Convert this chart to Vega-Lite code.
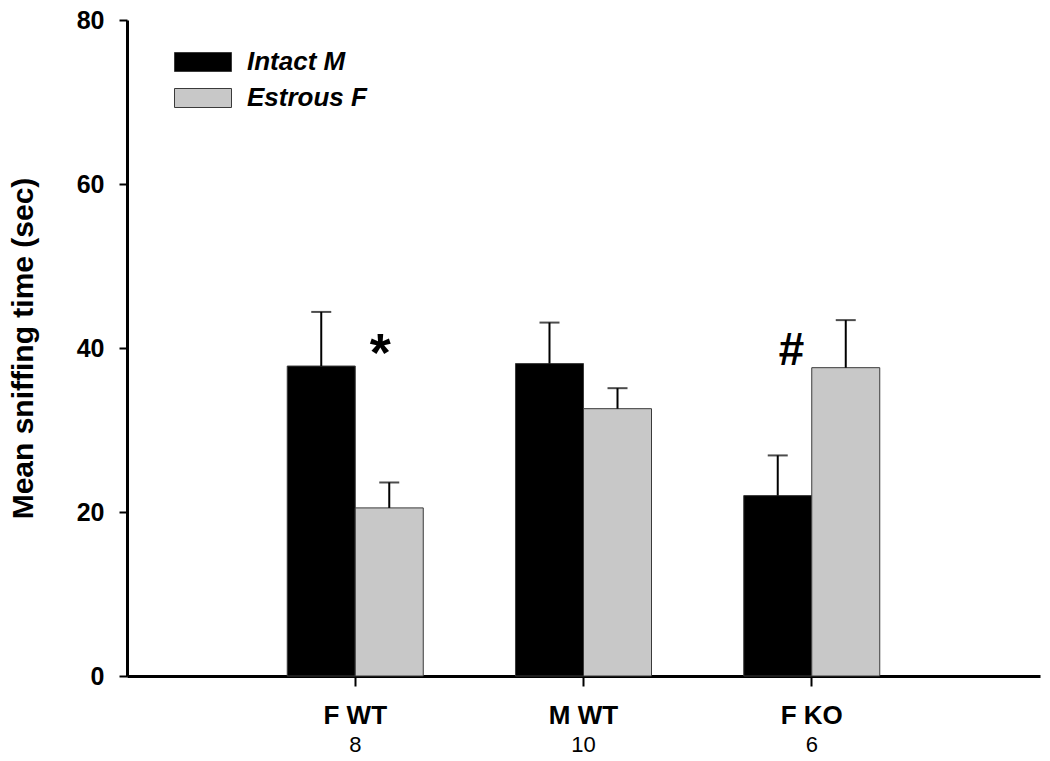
{
  "$schema": "https://vega.github.io/schema/vega-lite/v6.json",
  "width": 913,
  "height": 656,
  "autosize": "none",
  "padding": {"left": 127, "top": 20, "right": 10, "bottom": 85},
  "background": "white",
  "config": {"view": {"stroke": null}, "font": "Liberation Sans"},
  "datasets": {
    "bars": [
      {"group": "F WT|8", "series": "Intact M", "mean": 37.8, "upper": 44.4},
      {"group": "F WT|8", "series": "Estrous F", "mean": 20.5, "upper": 23.6},
      {"group": "M WT|10", "series": "Intact M", "mean": 38.1, "upper": 43.1},
      {"group": "M WT|10", "series": "Estrous F", "mean": 32.6, "upper": 35.1},
      {"group": "F KO|6", "series": "Intact M", "mean": 22.0, "upper": 26.9},
      {"group": "F KO|6", "series": "Estrous F", "mean": 37.6, "upper": 43.4}
    ],
    "notes": [
      {"group": "F WT|8", "series": "Estrous F", "y": 37.8, "label": "*"},
      {"group": "F KO|6", "series": "Intact M", "y": 37.9, "label": "#"}
    ]
  },
  "resolve": {"axis": {"x": "independent"}},
  "layer": [
    {
      "data": {"name": "bars"},
      "mark": {"type": "bar", "stroke": "#3a3a3a", "strokeWidth": 1},
      "encoding": {
        "x": {
          "field": "group", "type": "nominal", "sort": null,
          "scale": {"paddingInner": 0, "paddingOuter": 0.5},
          "axis": {
            "title": null, "labelExpr": "split(datum.value,'|')[0]", "labelAngle": 0,
            "labelFontSize": 26, "labelFontWeight": "bold", "labelColor": "black", "labelPadding": 16,
            "tickSize": 10, "tickWidth": 2, "tickColor": "black",
            "domainColor": "black", "domainWidth": 3
          }
        },
        "xOffset": {
          "field": "series", "type": "nominal",
          "scale": {"domain": ["Intact M", "Estrous F"], "paddingInner": 0, "paddingOuter": 0.678}
        },
        "y": {
          "field": "mean", "type": "quantitative",
          "scale": {"domain": [0, 80], "nice": false},
          "axis": {
            "title": "Mean sniffing time (sec)", "values": [0, 20, 40, 60, 80], "grid": false,
            "tickSize": 8, "tickWidth": 2, "tickColor": "black",
            "domainColor": "black", "domainWidth": 3,
            "labelFontSize": 25, "labelFontWeight": "bold", "labelColor": "black", "labelPadding": 15,
            "titleFontSize": 30, "titleFontWeight": "bold", "titleColor": "black", "titlePadding": 38
          }
        },
        "color": {
          "field": "series", "type": "nominal",
          "scale": {"domain": ["Intact M", "Estrous F"], "range": ["#000000", "#c8c8c8"]},
          "legend": {
            "orient": "none", "legendX": 63, "legendY": 29, "title": null,
            "symbolType": "M-3,-1H3V1H-3Z", "symbolSize": 361,
            "symbolStrokeColor": "#3a3a3a", "symbolStrokeWidth": 1, "symbolOpacity": 1,
            "labelFontSize": 26, "labelFontStyle": "italic", "labelFontWeight": "bold",
            "labelColor": "black", "labelOffset": 31, "rowPadding": 10
          }
        }
      }
    },
    {
      "data": {"name": "bars"},
      "mark": {"type": "rule", "color": "black", "strokeWidth": 2},
      "encoding": {
        "x": {
          "field": "group", "type": "nominal", "sort": null,
          "scale": {"paddingInner": 0, "paddingOuter": 0.5},
          "axis": {
            "orient": "bottom", "title": null, "labelExpr": "split(datum.value,'|')[1]", "labelAngle": 0,
            "domain": false, "ticks": false, "tickSize": 0,
            "labelFontSize": 22, "labelFontWeight": "normal", "labelColor": "black", "labelPadding": 58
          }
        },
        "xOffset": {
          "field": "series", "type": "nominal",
          "scale": {"domain": ["Intact M", "Estrous F"], "paddingInner": 0, "paddingOuter": 0.678}
        },
        "y": {"field": "mean", "type": "quantitative", "scale": {"domain": [0, 80], "nice": false}},
        "y2": {"field": "upper"}
      }
    },
    {
      "data": {"name": "bars"},
      "mark": {"type": "tick", "color": "black", "size": 20, "thickness": 2, "orient": "horizontal"},
      "encoding": {
        "x": {"field": "group", "type": "nominal", "sort": null, "scale": {"paddingInner": 0, "paddingOuter": 0.5}, "axis": null},
        "xOffset": {
          "field": "series", "type": "nominal",
          "scale": {"domain": ["Intact M", "Estrous F"], "paddingInner": 0, "paddingOuter": 0.678}
        },
        "y": {"field": "upper", "type": "quantitative", "scale": {"domain": [0, 80], "nice": false}}
      }
    },
    {
      "data": {"name": "notes"},
      "transform": [{"filter": "datum.label == '*'"}],
      "mark": {"type": "text", "fontSize": 54, "fontWeight": "bold", "baseline": "alphabetic", "align": "center", "color": "black", "dx": -9, "dy": 5},
      "encoding": {
        "x": {"field": "group", "type": "nominal", "sort": null, "scale": {"paddingInner": 0, "paddingOuter": 0.5}, "axis": null},
        "xOffset": {
          "field": "series", "type": "nominal",
          "scale": {"domain": ["Intact M", "Estrous F"], "paddingInner": 0, "paddingOuter": 0.678}
        },
        "y": {"field": "y", "type": "quantitative", "scale": {"domain": [0, 80], "nice": false}},
        "text": {"field": "label"}
      }
    },
    {
      "data": {"name": "notes"},
      "transform": [{"filter": "datum.label == '#'"}],
      "mark": {"type": "text", "fontSize": 46, "fontWeight": "bold", "fontStyle": "italic", "baseline": "alphabetic", "align": "center", "color": "black", "dx": 13},
      "encoding": {
        "x": {"field": "group", "type": "nominal", "sort": null, "scale": {"paddingInner": 0, "paddingOuter": 0.5}, "axis": null},
        "xOffset": {
          "field": "series", "type": "nominal",
          "scale": {"domain": ["Intact M", "Estrous F"], "paddingInner": 0, "paddingOuter": 0.678}
        },
        "y": {"field": "y", "type": "quantitative", "scale": {"domain": [0, 80], "nice": false}},
        "text": {"field": "label"}
      }
    }
  ]
}
